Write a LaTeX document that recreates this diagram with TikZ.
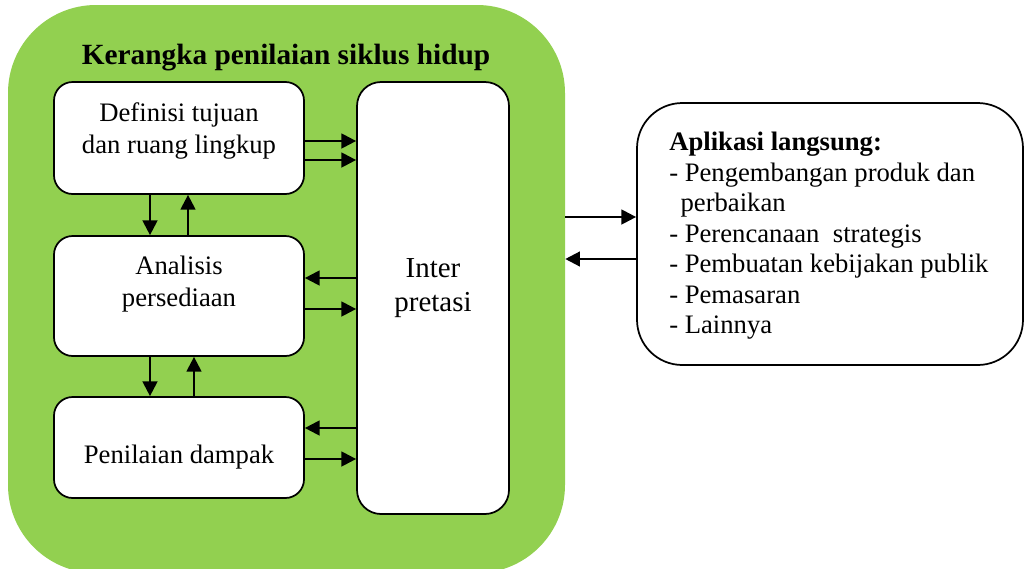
\documentclass[tikz,border=0pt]{standalone}
\usepackage{fontspec}
\setmainfont{Liberation Serif}
\usetikzlibrary{arrows.meta}
\definecolor{lcagreen}{HTML}{92D050}
\begin{document}
\begin{tikzpicture}[x=0.75pt,y=-0.75pt,
  box/.style={draw=black, line width=1.3pt, fill=white, rounded corners=14pt, inner sep=0pt},
  txt/.style={inner sep=0pt, align=center, font=\fontsize{20}{23.5}\selectfont},
  arr/.style={line width=1.7pt, -{Triangle[length=11pt,width=11pt]}}]
\useasboundingbox (0,0) rectangle (1025,568);
% green frame
\node[fill=lcagreen, rounded corners=66pt, minimum width=417.75pt, minimum height=426pt, inner sep=0pt] (frame) at (286.5,289) {};
\node[inner sep=0pt, font=\fontsize{22}{26}\selectfont\bfseries] (title) at (286,58) {Kerangka penilaian siklus hidup};
% boxes
\node[box, minimum width=187.5pt, minimum height=84pt] (def) at (179,138) {};
\node[box, minimum width=187.5pt, minimum height=90pt] (ana) at (179,296) {};
\node[box, minimum width=187.5pt, minimum height=75.75pt] (pen) at (179,447.5) {};
\node[box, minimum width=114pt, minimum height=324pt, rounded corners=18pt] (int) at (433,298) {};
\node[box, minimum width=289.5pt, minimum height=196.5pt, rounded corners=34pt] (app) at (830,234) {};
% texts
\node[txt] (deft) at (179,131) {Definisi tujuan\\dan ruang lingkup};
\node[txt] (anat) at (179,284) {Analisis\\persediaan};
\node[txt] (pent) at (179,457) {Penilaian dampak};
\node[txt, font=\fontsize{21.7}{25}\selectfont] (intt) at (433,288) {Inter\\pretasi};
\node[inner sep=0pt, align=left, anchor=north west, font=\fontsize{20}{22.9}\selectfont] (appt) at (669,132)
  {\textbf{Aplikasi langsung:}\\
   - Pengembangan produk dan\\
   \hspace*{8.5pt}perbaikan\\
   - Perencanaan\ \ strategis\\
   - Pembuatan kebijakan publik\\
   - Pemasaran\\
   - Lainnya};
% arrows definisi <-> interpretasi
\draw[arr] (def.east |- 0,141) -- (int.west |- 0,141);
\draw[arr] (def.east |- 0,160) -- (int.west |- 0,160);
% definisi <-> analisis
\draw[arr] (def.south -| 150,0) -- (ana.north -| 150,0);
\draw[arr] (ana.north -| 188,0) -- (def.south -| 188,0);
% analisis <-> interpretasi
\draw[arr] (int.west |- 0,278) -- (ana.east |- 0,278);
\draw[arr] (ana.east |- 0,309) -- (int.west |- 0,309);
% analisis <-> penilaian
\draw[arr] (ana.south -| 150,0) -- (pen.north -| 150,0);
\draw[arr] (pen.north -| 194,0) -- (ana.south -| 194,0);
% penilaian <-> interpretasi
\draw[arr] (int.west |- 0,428) -- (pen.east |- 0,428);
\draw[arr] (pen.east |- 0,459) -- (int.west |- 0,459);
% frame <-> aplikasi
\draw[arr] (frame.east |- 0,217) -- (app.west |- 0,217);
\draw[arr] (app.west |- 0,259) -- (frame.east |- 0,259);
\end{tikzpicture}
\end{document}
